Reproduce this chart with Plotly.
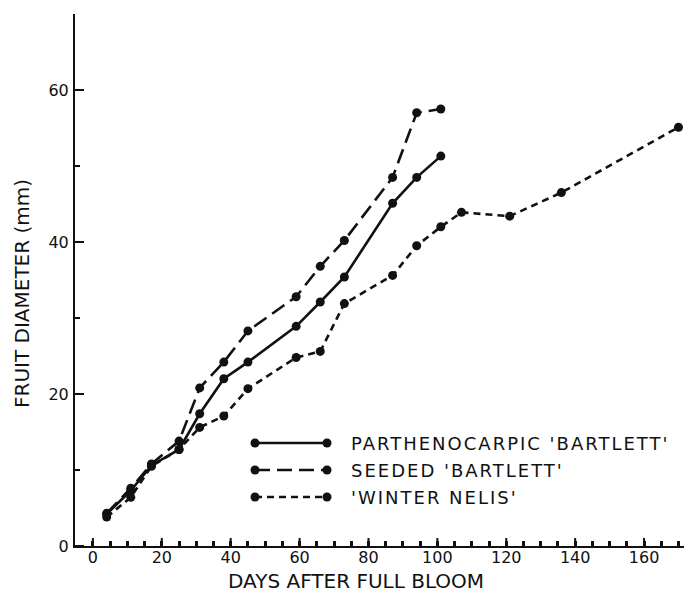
import plotly.graph_objects as go

# ---- data ----
parth_days = [4, 11, 17, 25, 31, 38, 45, 59, 66, 73, 87, 94, 101]
parth_diam = [4.2, 7.3, 10.6, 12.7, 17.4, 22.0, 24.2, 28.9, 32.1, 35.4, 45.1, 48.5, 51.3]

seeded_days = [4, 11, 17, 25, 31, 38, 45, 59, 66, 73, 87, 94, 101]
seeded_diam = [4.3, 7.6, 10.8, 13.8, 20.8, 24.2, 28.3, 32.8, 36.8, 40.2, 48.5, 57.0, 57.5]

winter_days = [4, 11, 17, 25, 31, 38, 45, 59, 66, 73, 87, 94, 101, 107, 121, 136, 170]
winter_diam = [3.8, 6.4, 10.5, 12.7, 15.6, 17.1, 20.7, 24.8, 25.6, 31.9, 35.6, 39.5, 42.0, 43.9, 43.4, 46.5, 55.1]

series_names = ["PARTHENOCARPIC 'BARTLETT'", "SEEDED 'BARTLETT'", "'WINTER NELIS'"]
x_title = "DAYS AFTER FULL BLOOM"
y_title = "FRUIT DIAMETER (mm)"

x_all_ticks = list(range(0, 171, 5))
x_major_ticks = [0, 20, 40, 60, 80, 100, 120, 140, 160]
y_all_ticks = list(range(0, 71, 10))
y_major_ticks = [0, 20, 40, 60]

FONT = "DejaVu Sans"
BLACK = "#111111"
dashes = ["solid", "15px,7px", "7px,5px"]

W, H = 684, 596
ML, MR, MT, MB = 75, 0, 14, 50
XR = [-5.2, 171.6]
YR = [0, 70]

fig = go.Figure()
for (xs, ys), name, dash in zip(
    [(parth_days, parth_diam), (seeded_days, seeded_diam), (winter_days, winter_diam)],
    series_names, dashes):
    fig.add_trace(go.Scatter(
        x=xs, y=ys, mode="lines+markers", name=name, showlegend=False,
        line=dict(color=BLACK, width=2.6, dash=dash),
        marker=dict(color=BLACK, size=9, symbol="circle"),
        cliponaxis=False,
    ))

pw = W - ML - MR
ph = H - MT - MB
def xp(px):
    return (px - ML) / pw
def yp(py):
    return (H - MB - py) / ph

shapes = []
annots = []

# longer major ticks (inside), on top of the short axis ticks
for v in x_major_ticks:
    shapes.append(dict(type="line", xref="x", yref="paper", layer="above",
                       x0=v, x1=v, y0=0, y1=8 / ph, line=dict(color=BLACK, width=2)))
for v in y_major_ticks:
    shapes.append(dict(type="line", yref="y", xref="paper", layer="above",
                       y0=v, y1=v, x0=0, x1=9 / pw, line=dict(color=BLACK, width=2)))

# ---- custom legend (line with dots at both ends) ----
leg_rows = [443, 470, 497]
for name, dash, ry in zip(series_names, dashes, leg_rows):
    shapes.append(dict(type="line", xref="paper", yref="paper",
                       x0=xp(255), x1=xp(327), y0=yp(ry), y1=yp(ry),
                       line=dict(color=BLACK, width=2.6, dash=dash)))
    for cx in (255, 327):
        shapes.append(dict(type="circle", xref="paper", yref="paper",
                           xsizemode="pixel", ysizemode="pixel",
                           xanchor=xp(cx), yanchor=yp(ry),
                           x0=-4.5, x1=4.5, y0=-4.5, y1=4.5,
                           fillcolor=BLACK, line=dict(width=0)))
    annots.append(dict(text=name, xref="paper", yref="paper",
                       x=xp(349), y=yp(ry), xanchor="left", yanchor="middle",
                       align="left",
                       showarrow=False, font=dict(family=FONT, size=18, color=BLACK)))

annots.append(dict(text=x_title, xref="paper", yref="paper",
                   x=xp(356), y=yp(581), xanchor="center", yanchor="middle",
                   showarrow=False, font=dict(family=FONT, size=20, color=BLACK)))
annots.append(dict(text=y_title, xref="paper", yref="paper",
                   x=xp(22), y=yp(294), xanchor="center", yanchor="middle",
                   textangle=-90,
                   showarrow=False, font=dict(family=FONT, size=20, color=BLACK)))

fig.update_layout(
    width=W, height=H,
    margin=dict(l=ML, r=MR, t=MT, b=MB, pad=0),
    paper_bgcolor="white", plot_bgcolor="white",
    font=dict(family=FONT, color=BLACK),
    shapes=shapes, annotations=annots,
    showlegend=False,
    xaxis=dict(
        range=XR, tickmode="array", tickvals=x_all_ticks,
        ticktext=[str(v) if v in x_major_ticks else "" for v in x_all_ticks],
        showgrid=False, zeroline=False,
        showline=True, linecolor=BLACK, linewidth=2,
        ticks="inside", ticklen=5, tickwidth=2.5, tickcolor=BLACK,
        tickfont=dict(family=FONT, size=16, color=BLACK),
        ticklabelstandoff=-4,
    ),
    yaxis=dict(
        range=YR, tickmode="array", tickvals=y_all_ticks,
        ticktext=[str(v) if v in y_major_ticks else "" for v in y_all_ticks],
        showgrid=False, zeroline=False,
        showline=True, linecolor=BLACK, linewidth=2,
        ticks="inside", ticklen=5, tickwidth=2, tickcolor=BLACK,
        tickfont=dict(family=FONT, size=16, color=BLACK),
        ticklabelstandoff=1,
    ),
)

post = """
document.querySelectorAll('.annotation').forEach(function(a){
  var t = a.querySelector('text');
  if(!t) return;
  var s = t.textContent;
  if(s.indexOf('BARTLETT')>=0 || s.indexOf('NELIS')>=0){ t.style.letterSpacing='2px'; }
});
"""
fig.write_html("out.html", post_script=post)
